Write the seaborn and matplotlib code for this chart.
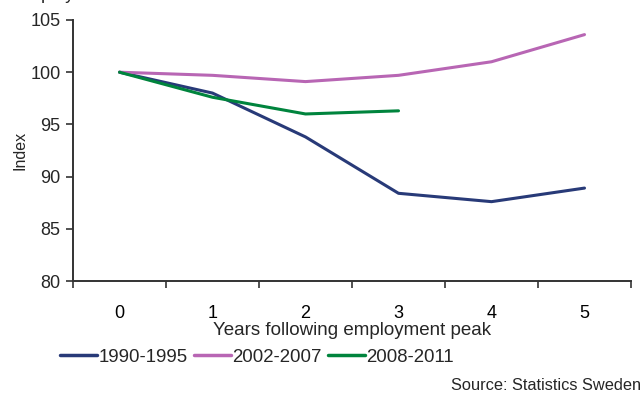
import matplotlib
matplotlib.use("Agg")
import matplotlib.pyplot as plt
import seaborn as sns
import pandas as pd
from matplotlib.ticker import FixedLocator

years = [0, 1, 2, 3, 4, 5]
tick_labels = ["0", "1", "2", "3", "4", "5"]
series_names = ["1990-1995", "2002-2007", "2008-2011"]
idx_1990 = [100.0, 98.0, 93.8, 88.4, 87.6, 88.9]
idx_2002 = [100.0, 99.7, 99.1, 99.7, 101.0, 103.6]
idx_2008 = [100.0, 97.6, 96.0, 96.3]
colors = ["#283A78", "#B866B4", "#00843D"]

frames = []
for name, vals in zip(series_names, [idx_1990, idx_2002, idx_2008]):
    frames.append(pd.DataFrame({"year": years[:len(vals)], "index": vals, "period": name}))
df = pd.concat(frames, ignore_index=True)

sns.set_style("white")
plt.rcParams["font.family"] = ["Liberation Sans", "DejaVu Sans"]

fig = plt.figure(figsize=(6.43, 3.94), dpi=100)
ax = fig.add_axes([73 / 643, 1 - 281 / 394, (631 - 73) / 643, (281 - 20) / 394])

sns.lineplot(data=df, x="year", y="index", hue="period", palette=colors,
             linewidth=2.2, ax=ax, legend=False, sort=False)

ax.set_xlim(-0.5, 5.5)
ax.set_ylim(80, 105)
ax.set_yticks([80, 85, 90, 95, 100, 105])
ax.set_xticks(years)
ax.set_xticklabels(tick_labels)
ax.xaxis.set_minor_locator(FixedLocator([i - 0.5 for i in range(7)]))
ax.tick_params(axis="x", which="major", length=0, pad=17, labelsize=13, colors="black")
ax.tick_params(axis="x", which="minor", length=5, width=1.2, color="#333333", direction="out", bottom=True)
ax.tick_params(axis="y", length=5, width=1.2, color="#333333", direction="out", left=True,
               labelsize=13, pad=4)
for s in ["top", "right"]:
    ax.spines[s].set_visible(False)
for s in ["left", "bottom"]:
    ax.spines[s].set_color("#333333")
    ax.spines[s].set_linewidth(1.4)

ax.set_xlabel("Years following employment peak", fontsize=13.5, labelpad=0)
ax.set_ylabel("Index", fontsize=11.5, labelpad=2)

handles = [plt.Line2D([], [], color=c, lw=2.5) for c in colors]
fig.legend(handles, series_names, loc="center left", bbox_to_anchor=(60 / 643, 1 - 357 / 394),
           ncol=3, frameon=False, fontsize=13.4, handlelength=2.0, handletextpad=0.05,
           columnspacing=0.35, borderaxespad=0, borderpad=0)

fig.text(641 / 643, 1 - 385 / 394, "Source: Statistics Sweden", ha="right", va="center", fontsize=11.8)
fig.text(15 / 643, 1 + 1 / 394, "Employment", ha="left", va="baseline", fontsize=13)

fig.savefig("out.png", dpi=100)
